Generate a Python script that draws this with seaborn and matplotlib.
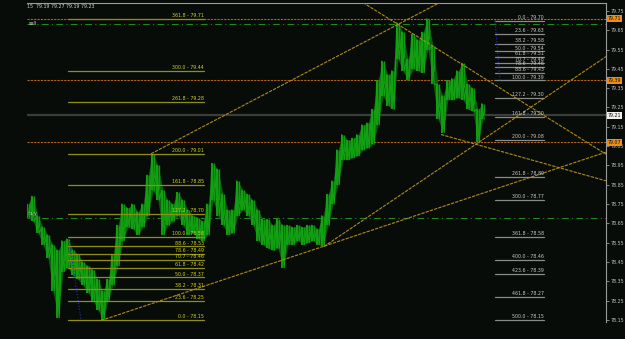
import matplotlib
matplotlib.use("Agg")
import matplotlib.pyplot as plt
import matplotlib.transforms as mtransforms
import numpy as np
import pandas as pd
import seaborn as sns

# ---------------- data ----------------
bar_high = [78.75, 78.79, 78.69, 78.63, 78.59, 78.54, 78.51, 78.56, 78.57, 78.51,
            78.49, 78.45, 78.43, 78.41, 78.36, 78.30, 78.36, 78.49, 78.64, 78.75,
            78.73, 78.75, 78.71, 78.75, 78.90, 79.01, 78.95, 78.82, 78.77, 78.75,
            78.81, 78.77, 78.72, 78.69, 78.68, 78.66, 78.75, 78.96, 78.93, 78.80,
            78.72, 78.72, 78.87, 78.82, 78.80, 78.77, 78.72, 78.67, 78.67, 78.64,
            78.67, 78.64, 78.64, 78.63, 78.64, 78.63, 78.64, 78.64, 78.62, 78.69,
            78.80, 78.87, 79.03, 79.11, 79.08, 79.09, 79.11, 79.16, 79.17, 79.24,
            79.39, 79.49, 79.42, 79.44, 79.69, 79.64, 79.50, 79.63, 79.60, 79.64,
            79.71, 79.57, 79.37, 79.31, 79.39, 79.40, 79.44, 79.48, 79.37, 79.35,
            79.24, 79.27]
bar_low = [78.68, 78.66, 78.60, 78.54, 78.47, 78.30, 78.16, 78.40, 78.42, 78.38,
           78.36, 78.33, 78.29, 78.25, 78.20, 78.15, 78.25, 78.33, 78.43, 78.56,
           78.63, 78.62, 78.59, 78.63, 78.69, 78.82, 78.77, 78.59, 78.64, 78.66,
           78.69, 78.64, 78.59, 78.60, 78.57, 78.56, 78.59, 78.77, 78.69, 78.64,
           78.59, 78.60, 78.69, 78.72, 78.69, 78.64, 78.56, 78.54, 78.52, 78.51,
           78.52, 78.42, 78.54, 78.54, 78.56, 78.54, 78.55, 78.56, 78.54, 78.53,
           78.64, 78.75, 78.85, 78.98, 78.98, 78.99, 79.00, 79.03, 79.04, 79.06,
           79.16, 79.31, 79.26, 79.24, 79.50, 79.44, 79.39, 79.45, 79.44, 79.43,
           79.55, 79.37, 79.19, 79.12, 79.29, 79.29, 79.30, 79.29, 79.24, 79.23,
           79.07, 79.19]

left_fib_ratio = ["0.0", "23.6", "38.2", "50.0", "61.8", "70.7", "78.6", "88.6", "100.0",
                  "127.2", "161.8", "200.0", "261.8", "300.0", "361.8"]
left_fib_price = [78.15, 78.25, 78.31, 78.37, 78.42, 78.46, 78.49, 78.53, 78.58,
                  78.70, 78.85, 79.01, 79.28, 79.44, 79.71]

right_fib_ratio = ["0.0", "23.6", "38.2", "50.0", "61.8", "70.7", "78.6", "88.6", "100.0",
                   "127.2", "161.8", "200.0", "261.8", "300.0", "361.8", "400.0",
                   "423.6", "461.8", "500.0"]
right_fib_price = [79.70, 79.63, 79.58, 79.54, 79.51, 79.48, 79.46, 79.43, 79.39,
                   79.30, 79.20, 79.08, 78.89, 78.77, 78.58, 78.46, 78.39, 78.27, 78.15]

orange_levels = [79.71, 79.39, 79.07]
current_price = 79.21
green_levels = [79.68, 78.68]

# trendlines: (bar, price) anchor pairs
trend_anchor_1 = [(15.0, 78.15), (59.0, 78.53)]
trend_anchor_2 = [(24.6, 79.01), (74.0, 79.68)]
trend_anchor_3 = [(74.0, 79.68), (87.0, 79.47)]
trend_anchor_4 = [(59.2, 78.53), (89.6, 79.06)]
trend_anchor_5 = [(82.6, 79.11), (115.6, 78.87)]

y_ticks = [79.75, 79.65, 79.55, 79.45, 79.35, 79.25, 79.15, 79.05, 78.95, 78.85,
           78.75, 78.65, 78.55, 78.45, 78.35, 78.25, 78.15]

header = "15  79.19 79.27 79.19 79.23"

# ---------------- style ----------------
BG = "#080c08"
sns.set_theme(style="dark")
plt.rcParams["font.family"] = ["DejaVu Sans"]

W, H = 625, 339
fig = plt.figure(figsize=(W / 100, H / 100), dpi=100, facecolor=BG)
ax = fig.add_axes([27 / W, 1 - 322 / H, 579 / W, 319 / H])
ax.set_facecolor(BG)
XMIN, XMAX = -0.2, 115.6
ax.set_xlim(XMIN, XMAX)
ax.set_ylim(78.139, 79.791)

df = pd.DataFrame({"bar": np.arange(len(bar_high)), "high": bar_high, "low": bar_low})

# horizontal lines
for lv in orange_levels:
    ax.axhline(lv, color="#b4641a", lw=0.8, ls=(0, (2, 1)), zorder=2)
ax.axhline(current_price, color="#3a3d3a", lw=1.6, zorder=1)
for lv in green_levels:
    ax.axhline(lv, color="#1d8a1d", lw=0.8, ls=(0, (6, 3, 1, 3)), zorder=2)

# price bars: jagged high/low band
zig_x = np.repeat(df["bar"].to_numpy(), 2) + np.tile([-0.25, 0.25], len(df))
zig_y = np.ravel(np.column_stack([df["high"], df["low"]]))
ax.fill_between(df["bar"], df["low"], df["high"], color="#0b5e0b", lw=0, zorder=3)
ax.vlines(df["bar"] - 0.22, df["low"], df["high"], color="#13a613", lw=1.3, zorder=3)
ax.vlines(df["bar"] + 0.25, (df["low"] * 2 + df["high"]) / 3, df["high"],
          color="#0f9a0f", lw=1.0, zorder=3)
sns.lineplot(x=zig_x, y=zig_y, ax=ax, color="#12a212", lw=0.8, zorder=4, sort=False)

# trendlines
def trend(anchors, x0, x1):
    (ax_, ay_), (bx_, by_) = anchors
    s = (by_ - ay_) / (bx_ - ax_)
    xs = np.array([x0, x1])
    ax.plot(xs, ay_ + s * (xs - ax_), color="#b08a1c", lw=0.8, ls=(0, (3, 1)), zorder=5)

trend(trend_anchor_1, 14.6, XMAX)
trend(trend_anchor_2, 24.6, XMAX)
trend(trend_anchor_3, 67.0, XMAX)
trend(trend_anchor_4, 59.2, XMAX)
trend(trend_anchor_5, 82.6, XMAX)

FS = 3.4
# left fib set
for r, p in zip(left_fib_ratio, left_fib_price):
    ax.plot([8.0, 35.2], [p, p], color="#8f8f18", lw=0.9, zorder=4)
    ax.annotate(f"{r} - {p:.2f}", (35.2, p), xytext=(0, 0.6), textcoords="offset points",
                ha="right", va="bottom", fontsize=FS, color="#d2d21e", zorder=6)
ax.plot([8.2, 10.6], [78.57, 78.15], color="#2030c8", lw=0.8, ls=":", zorder=5)

# right fib set
for r, p in zip(right_fib_ratio, right_fib_price):
    ax.plot([93.4, 103.2], [p, p], color="#8a8a8a", lw=0.9, zorder=4)
    ax.annotate(f"{r} - {p:.2f}", (103.2, p), xytext=(0, 0.6), textcoords="offset points",
                ha="right", va="bottom", fontsize=FS, color="#c8c8c8", zorder=6)
ax.plot([93.4, 94.4], [79.70, 79.39], color="#2030c8", lw=0.8, ls=":", zorder=5)

# labels on chart
ax.text(0.1, 79.698, "sell", fontsize=FS, color="#d8d8d8", va="top", ha="left")
ax.text(0.1, 78.70, "buy", fontsize=FS, color="#d8d8d8", va="center", ha="left")
fig.text(27 / W, 1 - 4 / H, header, fontsize=FS, color="#d0d0d0", va="top", ha="left")

# axis styling
for s in ["left", "bottom"]:
    ax.spines[s].set_visible(False)
for s in ["right", "top"]:
    ax.spines[s].set_color("#9a9a9a")
    ax.spines[s].set_linewidth(0.8)
ax.set_xticks([])
ax.yaxis.tick_right()
ax.set_yticks(y_ticks)
ax.set_yticklabels([f"{v:.2f}" for v in y_ticks])
ax.tick_params(axis="y", colors="#9a9a9a", labelcolor="#c0c0c0", labelsize=FS,
               length=2, width=0.6, pad=1.5, right=True, left=False)
ax.set_xlabel("")
ax.set_ylabel("")
ax.grid(False)

# price boxes on the right axis
tr = mtransforms.blended_transform_factory(ax.transAxes, ax.transData)
for lv in orange_levels:
    ax.text(1.003, lv, f"{lv:.2f}", transform=tr, fontsize=FS, color="#101010",
            va="center", ha="left", zorder=10, clip_on=False,
            bbox=dict(boxstyle="square,pad=0.25", fc="#f08c10", ec="none"))
ax.text(1.003, current_price, f"{current_price:.2f}", transform=tr, fontsize=FS,
        color="#101010", va="center", ha="left", zorder=10, clip_on=False,
        bbox=dict(boxstyle="square,pad=0.25", fc="#f0f0f0", ec="none"))

fig.savefig("out.png", dpi=100, facecolor=BG)
